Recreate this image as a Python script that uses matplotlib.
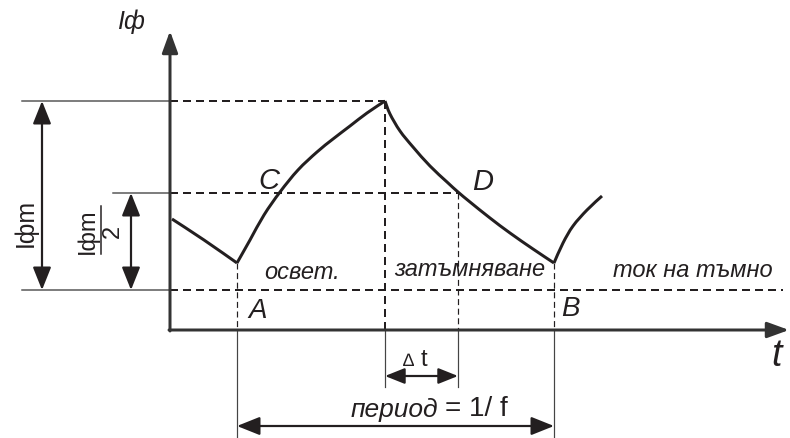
import matplotlib
matplotlib.use("Agg")
import matplotlib.pyplot as plt
from matplotlib.path import Path
from matplotlib.patches import PathPatch
import numpy as np

plt.rcParams['font.family'] = ['Liberation Sans', 'DejaVu Sans']

# ---- data (schematic, in drawing units: x = time, y = screen-like level) ----
# dark decay from left edge to A
seg0_x = [172, 204, 237]
seg0_y = [220, 241, 264]
# rising (illumination) A -> peak
rise_x = [237, 250, 264, 280, 298, 317, 333, 350, 367, 385]
rise_y = [264, 241, 216, 193, 171, 153, 140, 127, 114, 102]
# decay (darkening) peak -> B
fall_x = [385, 390, 400, 413, 430, 447, 458, 470, 490, 510, 533, 554]
fall_y = [102, 115, 132, 148, 167, 183, 193, 203, 219, 234, 250, 264]
# next rise after B
rise2_x = [554, 563, 573, 587, 602]
rise2_y = [264, 244, 227, 211, 197]

x_axis0, y_axis0 = 170, 331       # origin
x_end, y_top = 789, 32
y_peak, y_half, y_dark = 102, 194, 291
x_A, x_peak, x_D, x_B = 237, 385, 458, 554

INK = '#231f20'

fig = plt.figure(figsize=(7.9, 4.39), dpi=100)
ax = fig.add_axes([0, 0, 1, 1])
ax.set_xlim(0, 790)
ax.set_ylim(439, 0)
ax.axis('off')

px = 0.72  # 1 px in points


def smooth_path(xs, ys):
    """Catmull-Rom curve through the given points, rendered as cubic Beziers."""
    p = np.column_stack([xs, ys]).astype(float)
    n = len(p)
    verts = [p[0]]
    codes = [Path.MOVETO]
    for i in range(n - 1):
        p0 = p[i - 1] if i > 0 else p[i]
        p1, p2 = p[i], p[i + 1]
        p3 = p[i + 2] if i + 2 < n else p[i + 1]
        c1 = p1 + (p2 - p0) / 6.0
        c2 = p2 - (p3 - p1) / 6.0
        verts += [c1, c2, p2]
        codes += [Path.CURVE4] * 3
    return Path(verts, codes)


# axes with arrows
ax.annotate('', xy=(x_axis0, y_top), xytext=(x_axis0, y_axis0 + 1),
            arrowprops=dict(arrowstyle='-|>,head_length=1.1,head_width=0.4', lw=3*px,
                            color='#333333', shrinkA=0, shrinkB=0, mutation_scale=12))
ax.annotate('', xy=(x_end, y_axis0), xytext=(x_axis0 - 1, y_axis0),
            arrowprops=dict(arrowstyle='-|>,head_length=1.1,head_width=0.4', lw=3*px,
                            color='#333333', shrinkA=0, shrinkB=0, mutation_scale=12))

# curve
for xs, ys in [(seg0_x, seg0_y), (rise_x, rise_y), (fall_x, fall_y), (rise2_x, rise2_y)]:
    ax.add_patch(PathPatch(smooth_path(xs, ys), fill=False, edgecolor=INK, lw=3*px,
                           joinstyle='round', capstyle='butt'))

# horizontal reference lines (solid part left of axis)
ax.plot([22, x_axis0], [y_peak, y_peak], color='#555555', lw=1.5*px)
ax.plot([113, x_axis0], [y_half, y_half], color='#555555', lw=1.5*px)
ax.plot([22, x_axis0], [y_dark, y_dark], color='#555555', lw=1.5*px)

# dashed horizontals
dash_heavy = dict(color=INK, lw=2*px, dashes=(4, 2.5))
ax.plot([x_axis0, x_peak], [y_peak, y_peak], **dash_heavy)
ax.plot([x_axis0, x_D], [y_half, y_half], **dash_heavy)
ax.plot([x_axis0, x_end - 6], [y_dark, y_dark], **dash_heavy)

# dashed verticals
ax.plot([x_peak, x_peak], [y_peak, y_axis0], **dash_heavy)
dash_fine = dict(color=INK, lw=1.2*px, dashes=(5, 3))
ax.plot([x_A, x_A], [264, y_axis0], **dash_fine)
ax.plot([x_D, x_D], [y_half, y_axis0], **dash_fine)
ax.plot([x_B, x_B], [264, y_axis0], **dash_fine)

# solid extension lines below time axis
thin = dict(color='#444444', lw=1.2*px)
ax.plot([x_A, x_A], [y_axis0, 439], **thin)
ax.plot([x_B, x_B], [y_axis0, 439], **thin)
ax.plot([x_peak, x_peak], [y_axis0, 388], **thin)
ax.plot([x_D, x_D], [y_axis0, 388], **thin)


def darrow(p0, p1, lw=2.2, ms=14):
    ax.annotate('', xy=p1, xytext=p0,
                arrowprops=dict(arrowstyle='<|-|>,head_length=1.0,head_width=0.4',
                                lw=lw*px, color=INK, shrinkA=0, shrinkB=0,
                                mutation_scale=ms))


darrow((42, y_peak), (42, y_dark))
darrow((131, y_half), (131, y_dark))
darrow((x_peak, 377), (x_D, 377), ms=12)
darrow((x_A, 427), (x_B, 427))

# labels
ax.text(131, 22, 'Iф', fontsize=18, style='italic', color=INK, ha='center', va='center')
ax.text(776, 356, 't', fontsize=27, style='italic', color=INK, ha='center', va='center')
ax.text(25, 223, 'Iфm', fontsize=18, rotation=90, color=INK, ha='center', va='center')
ax.text(88, 231, 'Iфm', fontsize=17, rotation=90, color=INK, ha='center', va='center')
ax.plot([101, 101], [207, 255], color=INK, lw=1.5*px)
ax.text(113, 231, '2', fontsize=17, rotation=90, color=INK, ha='center', va='center')

ax.text(269, 181, 'C', fontsize=21, style='italic', color=INK, ha='center', va='center')
ax.text(483, 182, 'D', fontsize=21, style='italic', color=INK, ha='center', va='center')
ax.text(258, 311, 'A', fontsize=20, style='italic', color=INK, ha='center', va='center')
ax.text(570, 309, 'B', fontsize=20, style='italic', color=INK, ha='center', va='center')

ax.text(302, 273, 'освет.', fontsize=17, style='italic', color=INK, ha='center', va='center')
ax.text(470, 270, 'затъмняване', fontsize=17, style='italic', color=INK, ha='center', va='center')
ax.text(693, 271, 'ток на тъмно', fontsize=17, style='italic', color=INK, ha='center', va='center')

ax.text(408, 362, '∆', fontsize=13, color=INK, ha='center', va='center')
ax.text(424, 360, 't', fontsize=17, color=INK, ha='center', va='center')
ax.text(438, 410, 'период', fontsize=19, style='italic', color=INK, ha='right', va='center')
ax.text(445, 409, '= 1/ f', fontsize=20, color=INK, ha='left', va='center')

fig.savefig('out.png', dpi=100)
